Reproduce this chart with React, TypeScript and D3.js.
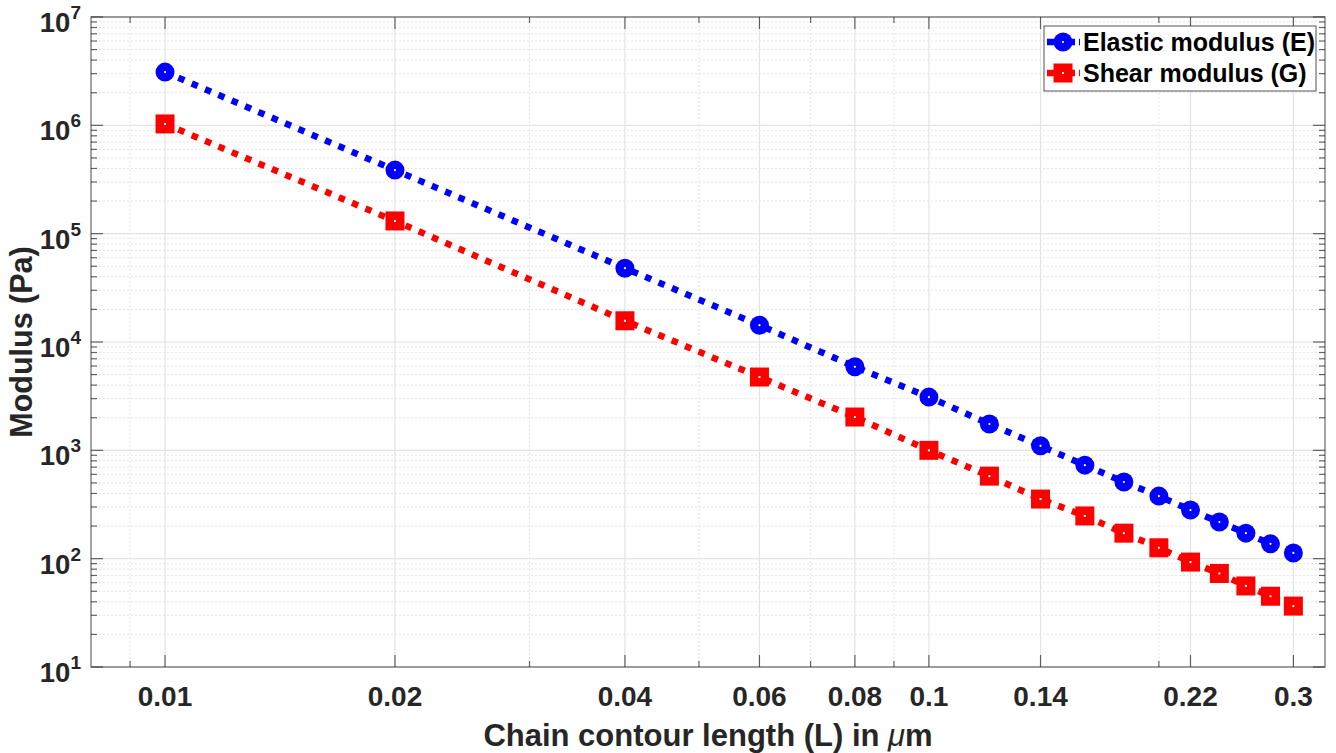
import React from 'react';
import * as d3 from 'd3';

// chain contour length in um
const lengths = [0.01, 0.02, 0.04, 0.06, 0.08, 0.1, 0.12, 0.14, 0.16, 0.18, 0.2, 0.22, 0.24, 0.26, 0.28, 0.3];
// moduli in Pa
const elastic = [3.1e6, 3.86e5, 4.8e4, 1.43e4, 5.9e3, 3.1e3, 1.75e3, 1.1e3, 730, 510, 378, 281, 218, 172, 137, 113];
const shear = [1.03e6, 1.31e5, 1.57e4, 4.75e3, 2.03e3, 1.0e3, 578, 355, 248, 172, 126, 93, 73, 56, 45, 36.5];

const xTicks = [0.01, 0.02, 0.04, 0.06, 0.08, 0.1, 0.14, 0.22, 0.3];
const xTickLabels = ['0.01', '0.02', '0.04', '0.06', '0.08', '0.1', '0.14', '0.22', '0.3'];
const yExponents = [1, 2, 3, 4, 5, 6, 7];

const W = 1336;
const H = 753;
const left = 91;
const right = 1325;
const top = 17;
const bottom = 667;

const FONT = '"Liberation Sans", Arial, Helvetica, sans-serif';
const AXIS = '#262626';
const BLUE = '#0000ff';
const RED = '#ff0000';

const x = d3.scaleLog().domain([0.008, 0.33]).range([left, right]);
const y = d3.scaleLog().domain([10, 1e7]).range([bottom, top]);

// minor ticks: k*10^n inside the domain that are not majors
const xMinor: number[] = [];
for (let n = -3; n <= 0; n++) {
  for (let k = 1; k <= 9; k++) {
    const v = +(k * Math.pow(10, n)).toPrecision(3);
    if (v > 0.008 && v < 0.33 && !xTicks.some(t => Math.abs(t - v) < 1e-9)) xMinor.push(v);
  }
}
const yMinor: number[] = [];
for (let n = 1; n < 7; n++) {
  for (let k = 2; k <= 9; k++) yMinor.push(k * Math.pow(10, n));
}

const line = d3.line<number>()
  .x((_, i) => x(lengths[i]))
  .y(d => y(d));

const Circle = ({ cx, cy }: { cx: number; cy: number }) => (
  <g>
    <circle cx={cx} cy={cy} r={9.5} fill={BLUE} />
    <circle cx={cx} cy={cy} r={1.1} fill="#fff" />
  </g>
);

const Square = ({ cx, cy }: { cx: number; cy: number }) => (
  <g>
    <rect x={cx - 9.5} y={cy - 9.5} width={19} height={19} fill={RED} />
    <rect x={cx - 1} y={cy - 1} width={2} height={2} fill="#fff" />
  </g>
);

export default function App() {
  return (
    <svg width={W} height={H} style={{ position: 'absolute', left: 0, top: 0, background: '#fff' }}>
      {/* grid */}
      <g>
        {xMinor.map(v => (
          <line key={'xm' + v} x1={x(v)} x2={x(v)} y1={top} y2={bottom} stroke="#e4e4e4" strokeWidth={1} strokeDasharray="2 2" />
        ))}
        {yMinor.map(v => (
          <line key={'ym' + v} x1={left} x2={right} y1={y(v)} y2={y(v)} stroke="#e6e6e6" strokeWidth={1} strokeDasharray="2 2" />
        ))}
        {xTicks.map(v => (
          <line key={'xg' + v} x1={x(v)} x2={x(v)} y1={top} y2={bottom} stroke="#e3e3e3" strokeWidth={1.2} />
        ))}
        {yExponents.map(e => (
          <line key={'yg' + e} x1={left} x2={right} y1={y(Math.pow(10, e))} y2={y(Math.pow(10, e))} stroke="#e3e3e3" strokeWidth={1.2} />
        ))}
      </g>

      {/* series */}
      <path d={line(elastic) || ''} fill="none" stroke={BLUE} strokeWidth={6.5} strokeDasharray="6.5 8" />
      <path d={line(shear) || ''} fill="none" stroke={RED} strokeWidth={6.5} strokeDasharray="6.5 8" />
      {elastic.map((v, i) => <Circle key={'e' + i} cx={x(lengths[i])} cy={y(v)} />)}
      {shear.map((v, i) => <Square key={'g' + i} cx={x(lengths[i])} cy={y(v)} />)}

      {/* axes box and ticks */}
      <g stroke={AXIS} strokeOpacity={0.7} strokeWidth={1.2}>
        <rect x={left} y={top} width={right - left} height={bottom - top} fill="none" />
        {xTicks.map(v => (
          <g key={'xt' + v}>
            <line x1={x(v)} x2={x(v)} y1={bottom} y2={bottom - 12} />
            <line x1={x(v)} x2={x(v)} y1={top} y2={top + 12} />
          </g>
        ))}
        {xMinor.map(v => (
          <g key={'xmt' + v}>
            <line x1={x(v)} x2={x(v)} y1={bottom} y2={bottom - 6} />
            <line x1={x(v)} x2={x(v)} y1={top} y2={top + 6} />
          </g>
        ))}
        {yExponents.map(e => (
          <g key={'yt' + e}>
            <line x1={left} x2={left + 12} y1={y(Math.pow(10, e))} y2={y(Math.pow(10, e))} />
            <line x1={right} x2={right - 12} y1={y(Math.pow(10, e))} y2={y(Math.pow(10, e))} />
          </g>
        ))}
        {yMinor.map(v => (
          <g key={'ymt' + v}>
            <line x1={left} x2={left + 6} y1={y(v)} y2={y(v)} />
            <line x1={right} x2={right - 6} y1={y(v)} y2={y(v)} />
          </g>
        ))}
      </g>

      {/* tick labels */}
      <g fontFamily={FONT} fontWeight="bold" fill={AXIS}>
        {xTicks.map((v, i) => (
          <text key={'xl' + v} x={x(v)} y={706} fontSize={28} textAnchor="middle">{xTickLabels[i]}</text>
        ))}
        {yExponents.map(e => (
          <text key={'yl' + e} x={81} y={y(Math.pow(10, e)) + 15} fontSize={27.5} textAnchor="end">
            10<tspan fontSize={19} dy={-13}>{e}</tspan>
          </text>
        ))}
        <text x={(left + right) / 2} y={746} fontSize={31} textAnchor="middle">
          Chain contour length (L) in <tspan fontStyle="italic" fontWeight="normal">μ</tspan>m
        </text>
        <text transform={`translate(32,${(top + bottom) / 2}) rotate(-90)`} fontSize={30.5} textAnchor="middle">Modulus (Pa)</text>
      </g>

      {/* legend */}
      <g>
        <rect x={1044} y={26} width={272} height={65} fill="#fff" stroke={AXIS} strokeOpacity={0.8} strokeWidth={1} />
        <line x1={1047} x2={1080} y1={42} y2={42} stroke={BLUE} strokeWidth={6.5} strokeDasharray="8 4 16 4" />
        <Circle cx={1063} cy={42} />
        <line x1={1047} x2={1080} y1={73} y2={73} stroke={RED} strokeWidth={6.5} strokeDasharray="8 4 16 4" />
        <Square cx={1063} cy={73} />
        <g fontFamily={FONT} fontWeight="bold" fontSize={25} fill="#000">
          <text x={1083} y={51}>Elastic modulus (E)</text>
          <text x={1083} y={82}>Shear modulus (G)</text>
        </g>
      </g>
    </svg>
  );
}
